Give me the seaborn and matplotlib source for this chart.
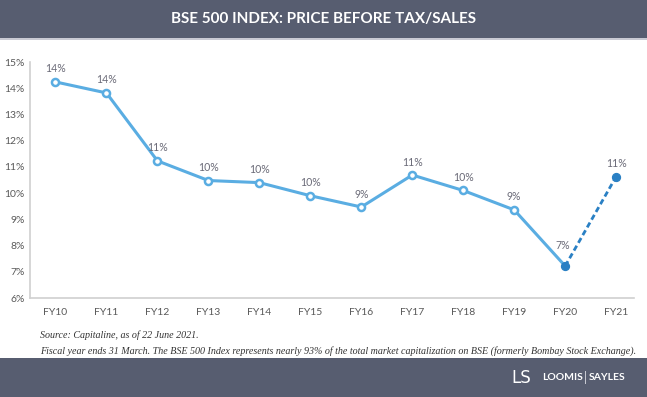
import matplotlib
matplotlib.use("Agg")
import matplotlib.pyplot as plt
import seaborn as sns
import pandas as pd
import numpy as np
from matplotlib.patches import Rectangle

years = ["FY10", "FY11", "FY12", "FY13", "FY14", "FY15", "FY16", "FY17", "FY18", "FY19", "FY20", "FY21"]
values = [14.24, 13.82, 11.23, 10.48, 10.40, 9.90, 9.47, 10.69, 10.10, 9.36, 7.22, 10.63]
labels = ["14%", "14%", "11%", "10%", "10%", "10%", "9%", "11%", "10%", "9%", "7%", "11%"]
y_ticks = [6, 7, 8, 9, 10, 11, 12, 13, 14, 15]

sns.set_theme(style="white")
plt.rcParams["font.family"] = ["Lato", "DejaVu Sans"]

W, H = 647, 397
fig = plt.figure(figsize=(W / 100, H / 100), dpi=100)

# header band
fig.patches.append(Rectangle((0, 1 - 38 / H), 1, 38 / H, transform=fig.transFigure,
                             facecolor="#575d70", edgecolor="none", zorder=0))
fig.patches.append(Rectangle((0, 1 - 40 / H), 1, 2 / H, transform=fig.transFigure,
                             facecolor="#c9cad3", edgecolor="none", zorder=0))
# footer band
fig.patches.append(Rectangle((0, 0), 1, (H - 358) / H, transform=fig.transFigure,
                             facecolor="#575d70", edgecolor="none", zorder=0))

fig.text(0.5, 1 - 19 / H, "BSE 500 INDEX: PRICE BEFORE TAX/SALES", color="white",
         ha="center", va="center", fontsize=11, fontweight="bold")

left, right = 30 / W, 634 / W
bottom, top = 1 - 298 / H, 1 - 62 / H
ax = fig.add_axes([left, bottom, right - left, top - bottom])

x = np.arange(len(years))
df = pd.DataFrame({"x": x, "v": values})
solid = df.iloc[:11]
dashed = df.iloc[10:]

light = "#5aade2"
dark = "#2a80c4"

sns.lineplot(data=solid, x="x", y="v", ax=ax, color=light, linewidth=2.2, zorder=2)
sns.lineplot(data=dashed, x="x", y="v", ax=ax, color=dark, linewidth=2.0,
             linestyle=(0, (2, 1.2)), zorder=2)
ax.scatter(x[:10], values[:10], s=26, facecolor="white", edgecolor=light, linewidth=1.8, zorder=3)
ax.scatter(x[10:], values[10:], s=32, facecolor=dark, edgecolor=dark, linewidth=1, zorder=3)

for i, (xi, v, lab) in enumerate(zip(x, values, labels)):
    dx, dy = (-2, 21) if i == 10 else (0, 13)
    ax.annotate(lab, (xi, v), xytext=(dx, dy), textcoords="offset pixels", ha="center",
                va="center", fontsize=7.6, color="#6b6b78")

ax.set_xlim(-0.5, 11.35)
ax.set_ylim(6, 15)
ax.set_yticks(y_ticks)
ax.set_yticklabels([f"{t}%" for t in y_ticks])
ax.set_xticks(x)
ax.set_xticklabels(years)
ax.set_xlabel("")
ax.set_ylabel("")
ax.tick_params(axis="both", labelsize=7.5, colors="#595959", length=0, pad=7)
ax.tick_params(axis="y", pad=4)
for s in ["top", "right"]:
    ax.spines[s].set_visible(False)
for s in ["left", "bottom"]:
    ax.spines[s].set_color("#d0d0d0")
    ax.spines[s].set_linewidth(1.2)
ax.grid(False)
ax.set_facecolor("none")

serif = ["Liberation Serif", "DejaVu Serif"]
fig.text(40 / W, 1 - 335 / H, "Source: Capitaline, as of 22 June 2021.", family=serif,
         style="italic", fontsize=7.2, color="#333333", va="center")
fig.text(40 / W, 1 - 351 / H,
         "Fiscal year ends 31 March. The BSE 500 Index represents nearly 93% of the total market capitalization on BSE (formerly Bombay Stock Exchange).",
         family=serif, style="italic", fontsize=7.2, color="#333333", va="center")

# logo
fig.text(521 / W, 1 - 378 / H, "LS", family=["DejaVu Sans"], fontsize=12,
         color="white", ha="center", va="center", fontweight="normal")
fig.text(542 / W, 1 - 378 / H, "LOOMIS", fontsize=7.5, color="white", ha="left",
         va="center", fontweight="bold")
fig.text(585 / W, 1 - 378 / H, "|", fontsize=9, color="#d8d9e0", ha="center", va="center")
fig.text(589 / W, 1 - 378 / H, "SAYLES", fontsize=7.5, color="white", ha="left",
         va="center", fontweight="bold")

fig.savefig("out.png", dpi=100)
